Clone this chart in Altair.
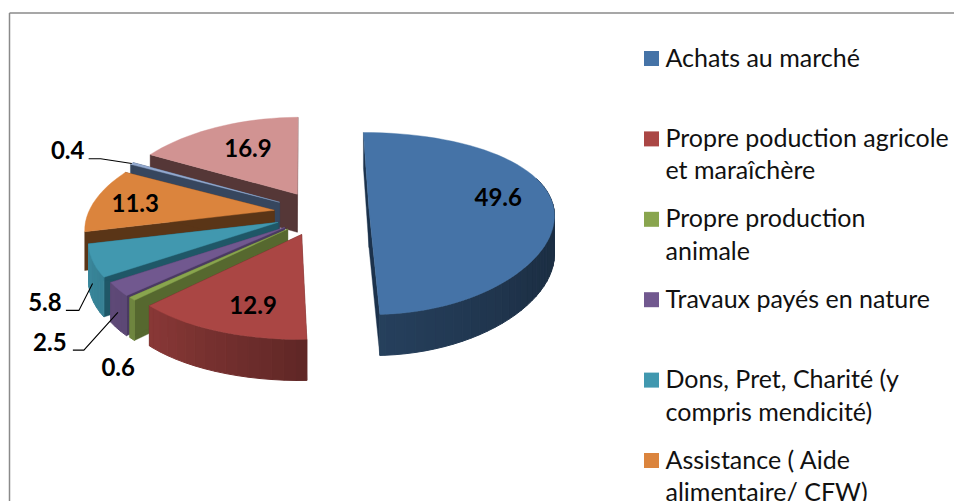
import math
import altair as alt
import numpy as np

# ---- values
CATEGORIES = ["Achats au marché", "Propre poduction agricole et maraîchère", "Propre production animale",
              "Travaux payés en nature", "Dons, Pret, Charité (y compris mendicité)",
              "Assistance ( Aide alimentaire/ CFW)", "Autres", "Autres sources"]
VALUES = [49.6, 12.9, 0.6, 2.5, 5.8, 11.3, 0.4, 16.9]
LEGEND_LINES = [["Achats au marché"], ["Propre poduction agricole", "et maraîchère"],
                ["Propre production", "animale"], ["Travaux payés en nature"],
                ["Dons, Pret, Charité (y", "compris mendicité)"], ["Assistance ( Aide", "alimentaire/ CFW)"]]
TOP_COLORS = ["#4573A7", "#AA4644", "#89A54E", "#71588F", "#4198AF", "#DB843D", "#93A9CF", "#D19392"]
WALL_COLORS = ["#1C324C", "#5C2120", "#56682F", "#4A3A62", "#1F5767", "#5A3517", "#36465E", "#553737"]

# ---- layout of the tilted, exploded pie
CX, CY, R, TILT, EXPLODE, DEPTH, START = 322, 213, 185, 0.48, 48, 38, -0.54
SLICE_DX = [-1, -3, 0, 0, 0, 0, 0, 0]
SLICE_DY = [-3, 0, 0, 0, 0, 0, 0, 1]
LABEL_ANGLE = [75, 199, 210.7, 223.9, 234.7, 277, 297.9, 333]
LABEL_FRAC = [0.70, 0.76, 1.47, 1.56, 1.40, 0.74, 1.36, 0.66]
LABEL_NUDGE = [(6, 5), (6, 1), (20, 0), (27, -4), (22, 0), (-6, 3), (-17, 1), (-1, 4)]
LEADER = {3: (23, 6, 34), 4: (21, 6, 34), 6: (21, 7, 33)}

edges = [START]
for v in VALUES:
    edges.append(edges[-1] + v * 3.6)


def project(i, theta, frac, drop=0.0):
    b = math.radians((edges[i] + edges[i + 1]) / 2)
    t = math.radians(theta)
    ex, ey = EXPLODE * math.sin(b), -EXPLODE * math.cos(b)
    x, y = frac * R * math.sin(t), -frac * R * math.cos(t)
    u = y / R
    px = CX + SLICE_DX[i] + ex * (1 + 0.086 * u) + x / (1 - (0.2 if x < 0 else 0.05) * u)
    py = CY + SLICE_DY[i] + TILT * ey + TILT * y / (1 - 0.154 * u) + drop * (1 + 0.08 * u)
    return [px, py]


def label_xy(i):
    p = project(i, LABEL_ANGLE[i], LABEL_FRAC[i])
    return [p[0] + LABEL_NUDGE[i][0], p[1] + LABEL_NUDGE[i][1]]


def shade(hex_color, f):
    r, g, b = [int(hex_color[k:k + 2], 16) for k in (1, 3, 5)]
    return "#%02x%02x%02x" % (int(r * f), int(g * f), int(b * f))


def feature(ring, fill, sw=0.4):
    return {"type": "Feature", "properties": {"fill": fill, "sw": sw},
            "geometry": {"type": "Polygon", "coordinates": [ring + [ring[0]]]}}


features = []
for i in [7, 6, 5, 4, 3, 2, 1, 0]:
    a0, a1 = edges[i], edges[i + 1]
    apex, apex_d = project(i, a0, 0), project(i, a0, 0, DEPTH)
    for a in (a0, a1):
        features.append(feature([apex, project(i, a, 1), project(i, a, 1, DEPTH), apex_d], WALL_COLORS[i]))
    grid = list(np.arange(a0, a1, 3.0)) + [a1]
    for p, q in zip(grid[:-1], grid[1:]):
        if 70 < q and p < 256:
            f = float(np.interp((p + q) / 2, [60, 120, 176, 222, 255], [0.38, 0.42, 0.55, 0.80, 0.90]))
            features.append(feature([project(i, p, 1), project(i, q, 1), project(i, q, 1, DEPTH), project(i, p, 1, DEPTH)],
                                    shade(TOP_COLORS[i], f), 1.0))
    features.append(feature([apex] + [project(i, float(a), 1) for a in grid], TOP_COLORS[i]))

W, H = 946, 493
xs = alt.X("x:Q", scale=alt.Scale(domain=[8, 8 + W]), axis=None)
ys = alt.Y("y:Q", scale=alt.Scale(domain=[8 + H, 8]), axis=None)
xs2, ys2 = alt.X2("x2:Q"), alt.Y2("y2:Q")

pie = alt.Chart(alt.Data(values=features)).mark_geoshape().encode(
    fill=alt.Fill("properties.fill:N", scale=None), stroke=alt.Stroke("properties.fill:N", scale=None),
    strokeWidth=alt.StrokeWidth("properties.sw:Q", scale=None)
).project(type="identity", scale=1, translate=[-8, -8])

frame = alt.Chart(alt.Data(values=[{"x": 9.5, "y": 13, "x2": 9.5, "y2": 501}, {"x": 9.5, "y": 13, "x2": 8 + W, "y2": 13}])
                  ).mark_rule(color="#8A8A8A", strokeWidth=1.5).encode(x=xs, y=ys, x2=xs2, y2=ys2)

labels = []
for i, v in enumerate(VALUES):
    p = label_xy(i)
    labels.append({"x": p[0], "y": p[1], "t": str(v)})
value_text = alt.Chart(alt.Data(values=labels)).mark_text(
    font="Lato", fontSize=24, fontWeight="bold", color="black", align="center", baseline="middle"
).encode(x=xs, y=ys, text="t:N")

leader_rows = []
for i, (dx, dy, elbow) in LEADER.items():
    lab = label_xy(i)
    end = project(i, (edges[i] + edges[i + 1]) / 2, 1, 0 if i == 6 else 22)
    for k, pt in enumerate([[lab[0] + dx, lab[1] + dy], [lab[0] + elbow, lab[1] + dy], end]):
        leader_rows.append({"id": i, "k": k, "x": pt[0], "y": pt[1]})
leaders = alt.Chart(alt.Data(values=leader_rows)).mark_line(color="black", strokeWidth=1.1).encode(
    x=xs, y=ys, detail="id:N", order="k:Q")

ROW0, ROW_STEP, LINE_STEP = 58.5, 80.4, 32.5
squares_rows = [{"x": 651.5, "y": ROW0 + r * ROW_STEP, "c": CATEGORIES[r]} for r in range(len(LEGEND_LINES))]
squares = alt.Chart(alt.Data(values=squares_rows)).mark_square(size=225, opacity=1, strokeWidth=0).encode(
    x=xs, y=ys, color=alt.Color("c:N", legend=None, scale=alt.Scale(domain=CATEGORIES[:6], range=TOP_COLORS[:6])))
text_rows = [{"x": 665.5, "y": ROW0 + r * ROW_STEP + n * LINE_STEP, "t": line}
             for r, lines in enumerate(LEGEND_LINES) for n, line in enumerate(lines)]
legend_text = alt.Chart(alt.Data(values=text_rows)).mark_text(
    font="Lato", fontSize=25, color="#111111", align="left", baseline="middle").encode(x=xs, y=ys, text="t:N")

chart = alt.layer(frame, pie, leaders, value_text, squares, legend_text).properties(
    width=W, height=H, padding=0, autosize=alt.AutoSizeParams(type="none"), background="white"
).configure_view(stroke=None)

chart.save("out.html", embed_options={"renderer": "svg", "actions": False})
